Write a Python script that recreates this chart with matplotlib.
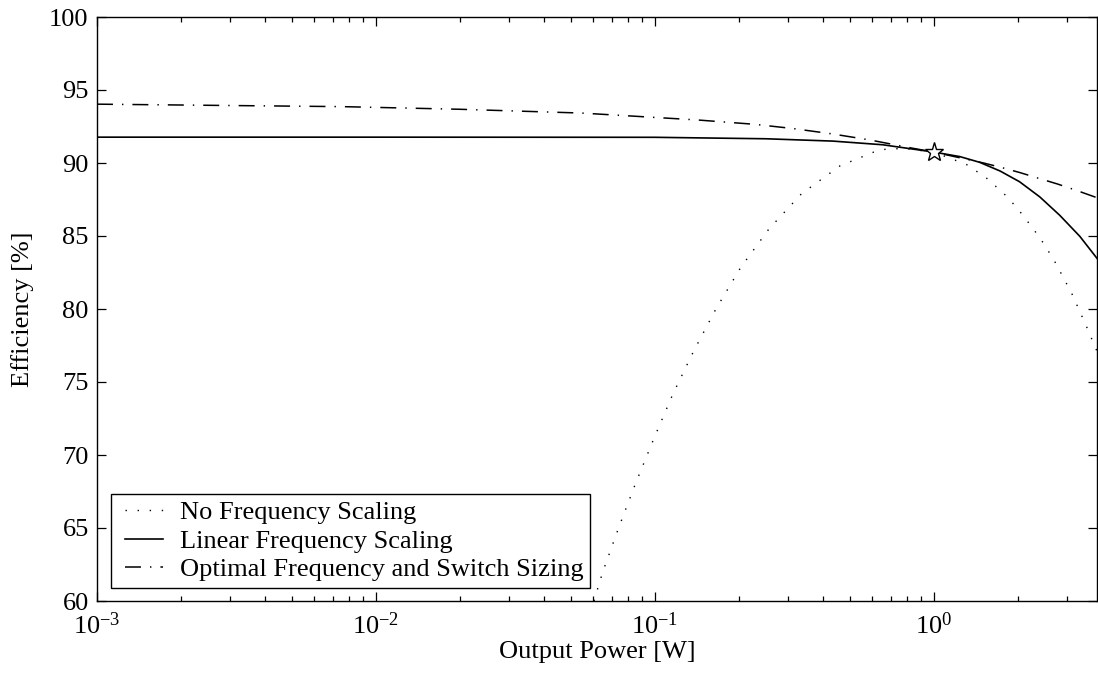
import matplotlib
matplotlib.use("Agg")
import matplotlib.pyplot as plt
from matplotlib.lines import Line2D
from matplotlib.legend_handler import HandlerLine2D

plt.rcParams['font.family'] = ['Liberation Serif', 'DejaVu Serif']
plt.rcParams['mathtext.fontset'] = 'custom'
plt.rcParams['mathtext.rm'] = 'Liberation Serif'
plt.rcParams['mathtext.it'] = 'Liberation Serif:italic'
plt.rcParams['mathtext.bf'] = 'Liberation Serif:bold'
plt.rcParams['font.size'] = 19
plt.rcParams['lines.scale_dashes'] = False

# No frequency scaling (dotted)
p_nofs = [0.0605, 0.0650, 0.0743, 0.0855, 0.0991, 0.116, 0.1377, 0.1656, 0.2033,
          0.257, 0.336, 0.461, 0.610, 0.671, 0.78, 1.0, 1.31, 1.42, 1.55, 1.66,
          1.79, 1.91, 2.04, 2.17, 2.30, 2.44, 2.57, 2.71, 3.12, 3.53, 3.85]
eff_nofs = [60.0, 61.97, 65.05, 68.1, 71.1, 74.16, 77.1, 80.0, 82.85,
            85.5, 87.9, 89.8, 90.75, 90.94, 91.0, 90.75, 89.9, 89.45, 88.95, 88.44,
            87.88, 87.3, 86.66, 86.0, 85.36, 84.68, 84.0, 83.29, 81.1, 78.8, 77.1]

# Linear frequency scaling (solid)
p_lin = [0.001, 0.01, 0.1, 0.25, 0.435, 0.656, 1.0, 1.24, 1.46, 1.73, 2.03,
         2.40, 2.83, 3.34, 3.85]
eff_lin = [91.77, 91.77, 91.76, 91.66, 91.5, 91.25, 90.75, 90.44, 90.05, 89.45, 88.72,
           87.68, 86.42, 84.98, 83.47]

# Optimal frequency and switch sizing (dash-dot)
p_opt = [0.001, 0.0029, 0.0076, 0.02, 0.0547, 0.1416, 0.228, 0.313, 0.43, 0.59,
         0.83, 1.0, 1.51, 1.76, 2.04, 2.38, 2.78, 3.22, 3.75, 3.85]
eff_opt = [94.03, 93.94, 93.86, 93.68, 93.42, 92.95, 92.65, 92.36, 92.0, 91.58,
           91.03, 90.75, 90.0, 89.68, 89.34, 88.95, 88.56, 88.15, 87.7, 87.62]

# design point
p_star = [1.0]
eff_star = [90.75]

labels = ['No Frequency Scaling', 'Linear Frequency Scaling',
          'Optimal Frequency and Switch Sizing']

fig = plt.figure(figsize=(10.98, 6.79), dpi=100)
ax = fig.add_axes([97 / 1098, 78 / 679, 1000 / 1098, 584 / 679])

ax.plot(p_nofs, eff_nofs, color='black', lw=1.0, linestyle=(0, (1.0, 7.7)),
        label=labels[0])
ax.plot(p_lin, eff_lin, color='black', lw=1.2, label=labels[1])
ax.plot(p_opt, eff_opt, color='black', lw=1.1,
        linestyle=(0, (11.5, 6.5, 1.0, 6.5)), label=labels[2])
ax.plot(p_star, eff_star, linestyle='none', marker='*', markersize=14,
        markerfacecolor='white', markeredgecolor='black', markeredgewidth=1.0)

ax.set_xscale('log')
ax.set_xlim(1e-3, 3.85)
ax.set_ylim(60, 100)
ax.set_yticks(range(60, 101, 5))

ax.tick_params(which='both', direction='in', top=True, right=True, width=0.9)
ax.tick_params(which='major', length=6.5)
ax.tick_params(which='minor', length=3.6)
ax.tick_params(axis='y', pad=6)
ax.tick_params(axis='x', pad=8)
for s in ax.spines.values():
    s.set_linewidth(1.0)

ax.set_xlabel('Output Power [W]', labelpad=2)
ax.set_ylabel('Efficiency [%]', labelpad=11)

leg = ax.legend(loc='lower left', bbox_to_anchor=(0.014, 0.022), borderaxespad=0,
                fancybox=False, frameon=True, edgecolor='black', framealpha=1,
                handlelength=1.71, handletextpad=0.64, labelspacing=0.19,
                borderpad=0.26,
                handler_map={Line2D: HandlerLine2D(xpad=0.27)})
leg.get_frame().set_linewidth(1.0)

fig.savefig('out.png', dpi=100)
